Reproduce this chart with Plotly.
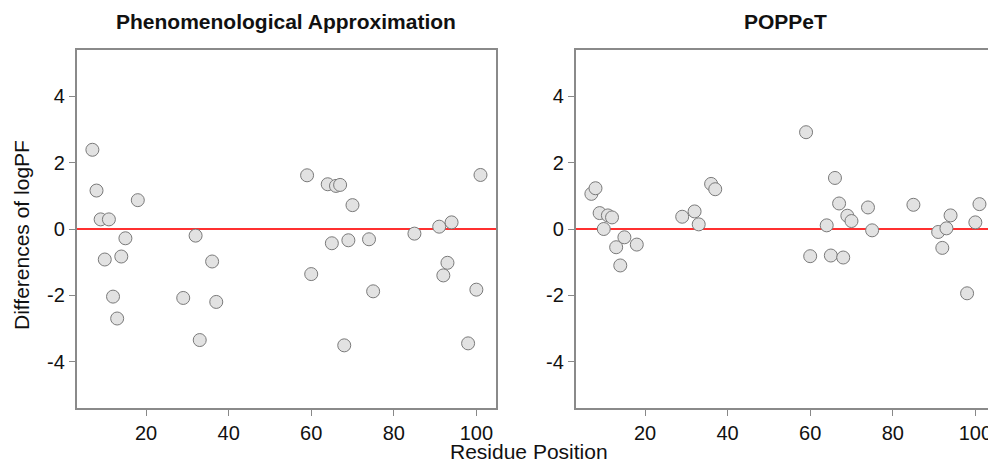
import plotly.graph_objects as go

residues = [7, 8, 9, 10, 11, 12, 13, 14, 15, 18, 29, 32, 33, 36, 37,
            59, 60, 64, 65, 66, 67, 68, 69, 70, 74, 75, 85, 91, 92, 93, 94, 98, 100, 101]
phenom_diff = [2.39, 1.16, 0.29, -0.92, 0.29, -2.04, -2.70, -0.83, -0.28, 0.87, -2.08, -0.20, -3.35, -0.98, -2.20,
               1.62, -1.36, 1.35, -0.43, 1.30, 1.33, -3.51, -0.34, 0.72, -0.31, -1.88, -0.14, 0.07, -1.40, -1.02,
               0.20, -3.45, -1.83, 1.63]
poppet_diff = [1.06, 1.23, 0.48, 0.00, 0.41, 0.35, -0.55, -1.10, -0.25, -0.47, 0.37, 0.53, 0.14, 1.36, 1.20,
               2.92, -0.82, 0.11, -0.80, 1.54, 0.77, -0.86, 0.40, 0.24, 0.65, -0.04, 0.73, -0.09, -0.57, 0.02,
               0.41, -1.94, 0.20, 0.75]
panel_titles = ["Phenomenological Approximation", "POPPeT"]
x_ticks = [20, 40, 60, 80, 100]
y_ticks = [-4, -2, 0, 2, 4]
y_tick_text = ["-4", "-2", "0", "2", "4"]

# page body has an 8px margin: figure is drawn from (8, 8)
OFF = 8
W, H = 996 - OFF, 465 - OFF
FONT = "Liberation Sans, Arial, sans-serif"


def px(x):
    return (x - OFF) / W


def py(y):
    return 1 - (y - OFF) / H


fig = go.Figure()
marker = dict(size=13, color="#e2e2e2", line=dict(color="#7a7a7a", width=1))
fig.add_trace(go.Scatter(x=residues, y=phenom_diff, mode="markers", marker=marker,
                         xaxis="x", yaxis="y", showlegend=False))
fig.add_trace(go.Scatter(x=residues, y=poppet_diff, mode="markers", marker=marker,
                         xaxis="x2", yaxis="y2", showlegend=False))

yr = [-5.4, 5.4]
ydom = [py(408), py(50)]


def xaxis_style(rng):
    return dict(range=rng, tickvals=x_ticks, ticks="outside", ticklen=6, tickcolor="#888",
                showline=True, linecolor="#8a8a8a", linewidth=2, mirror=True, showgrid=False,
                zeroline=False, ticklabeloverflow="allow",
                tickfont=dict(family=FONT, size=20, color="#111"))


common_y = dict(range=yr, tickvals=y_ticks, ticktext=y_tick_text, ticks="outside", ticklen=6,
                tickcolor="#888", showline=True, linecolor="#8a8a8a", linewidth=2, mirror=True,
                showgrid=False, zeroline=False, tickfont=dict(family=FONT, size=20, color="#111"),
                domain=ydom)

fig.update_layout(
    width=W, height=H,
    margin=dict(l=0, r=0, t=0, b=0),
    paper_bgcolor="white", plot_bgcolor="white",
    xaxis=dict(domain=[px(77), px(497)], anchor="y", **xaxis_style([3.24, 104.76])),
    yaxis=dict(anchor="x", **common_y),
    xaxis2=dict(domain=[px(577), 1.0], anchor="y2", **xaxis_style([3.24, 104.52])),
    yaxis2=dict(anchor="x2", **common_y),
)

for xref, yref in [("x domain", "y"), ("x2 domain", "y2")]:
    fig.add_shape(type="line", xref=xref, yref=yref, x0=0, x1=1, y0=0, y1=0,
                  line=dict(color="#ff3030", width=2), layer="below")

for cx, t in zip([287, 787], panel_titles):
    fig.add_annotation(text="<b>%s</b>" % t, x=px(cx), y=py(22), xref="paper", yref="paper",
                       showarrow=False, font=dict(family=FONT, size=21, color="#111"),
                       xanchor="center", yanchor="middle")

fig.add_annotation(text="Residue Position", x=px(530), y=py(451), xref="paper", yref="paper",
                   showarrow=False, font=dict(family=FONT, size=21, color="#111"),
                   xanchor="center", yanchor="middle")
fig.add_annotation(text="Differences of logPF", x=px(21), y=py(235), xref="paper", yref="paper",
                   showarrow=False, textangle=-90, font=dict(family=FONT, size=21, color="#111"),
                   xanchor="center", yanchor="middle")

fig.write_html("out.html")
